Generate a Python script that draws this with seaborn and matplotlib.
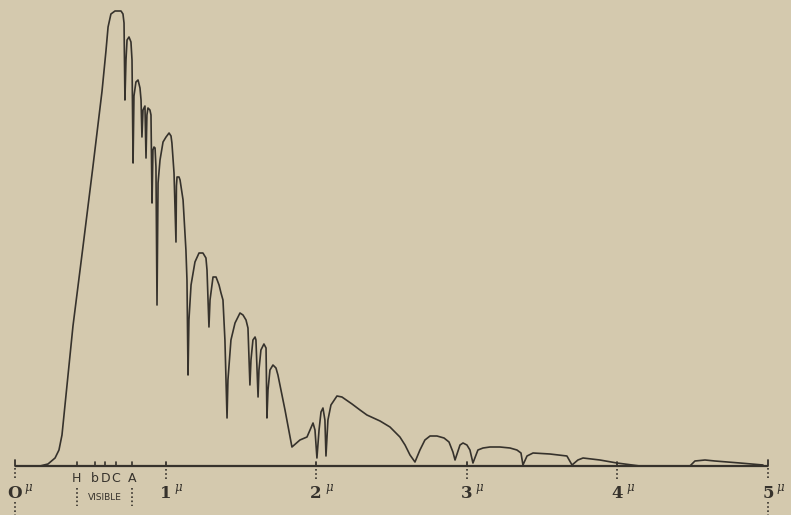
import matplotlib
matplotlib.use("Agg")
import matplotlib.pyplot as plt
import seaborn as sns
import pandas as pd

# Wavelength (microns) and relative intensity (arbitrary units)
wavelength = [0.166, 0.219, 0.266, 0.292, 0.312, 0.385, 0.452, 0.518, 0.578,
              0.604, 0.618, 0.637, 0.664, 0.704, 0.717, 0.724, 0.730, 0.737, 0.744,
              0.757, 0.770, 0.777, 0.784, 0.790, 0.803, 0.817, 0.830, 0.837, 0.843,
              0.850, 0.863, 0.870, 0.876, 0.883, 0.896, 0.903, 0.910, 0.916, 0.923,
              0.930, 0.936, 0.943, 0.950, 0.963, 0.983, 1.003, 1.023, 1.036, 1.042,
              1.056, 1.069, 1.072, 1.076, 1.089, 1.096, 1.116, 1.135, 1.142, 1.149,
              1.155, 1.169, 1.195, 1.222, 1.248, 1.268, 1.275, 1.288, 1.295, 1.315,
              1.335, 1.355, 1.368, 1.381, 1.394, 1.408, 1.414, 1.434, 1.461, 1.494,
              1.514, 1.534, 1.547, 1.560, 1.567, 1.580, 1.594, 1.600, 1.614, 1.620,
              1.633, 1.653, 1.667, 1.673, 1.680, 1.693, 1.713, 1.733, 1.746, 1.793,
              1.839, 1.892, 1.939, 1.965, 1.979, 1.992, 2.005, 2.019, 2.032, 2.045,
              2.058, 2.065, 2.078, 2.098, 2.138, 2.171, 2.238, 2.291, 2.337, 2.424,
              2.490, 2.556, 2.590, 2.623, 2.656, 2.689, 2.722, 2.756, 2.802, 2.849,
              2.882, 2.908, 2.922, 2.955, 2.975, 3.001, 3.021, 3.041, 3.074, 3.108,
              3.154, 3.220, 3.287, 3.333, 3.360, 3.373, 3.400, 3.440, 3.552, 3.665,
              3.699, 3.738, 3.772, 3.884, 3.997, 4.150, 4.482, 4.515, 4.582, 4.648,
              4.814, 4.967]
intensity = [0, 2, 8, 16, 31, 140, 220, 300, 375,
             415, 439, 452, 455, 455, 452, 443, 366, 406, 426,
             429, 424, 406, 303, 370, 384, 386, 378, 366, 329,
             356, 360, 308, 351, 358, 356, 351, 263, 316, 319,
             318, 299, 161, 283, 306, 324, 329, 333, 330, 323,
             293, 224, 280, 289, 289, 286, 266, 216, 186, 91,
             146, 181, 204, 213, 213, 208, 196, 139, 166, 189,
             189, 181, 173, 166, 126, 48, 86, 126, 143, 153,
             151, 146, 138, 81, 106, 126, 129, 126, 69, 96,
             116, 122, 118, 48, 76, 96, 101, 98, 91, 56,
             19, 26, 29, 38, 43, 36, 8, 36, 54, 58,
             46, 10, 46, 61, 70, 69, 62, 56, 51, 45,
             39, 29, 21, 11, 4, 16, 26, 30, 30, 28,
             24, 14, 6, 21, 23, 21, 16, 3, 16, 18,
             19, 19, 18, 16, 13, 1, 10, 13, 12, 10,
             1, 6, 8, 6, 3, 0, 0, 5, 6, 5,
             3, 1]

# Axis annotations
micron_ticks = [0, 1, 2, 3, 4, 5]
micron_labels = ["O", "1", "2", "3", "4", "5"]
line_names = ["H", "b", "D", "C", "A"]
line_positions = [0.41, 0.53, 0.60, 0.67, 0.777]

BG = "#d4c9ae"
INK = "#36322c"

sns.set_theme(style="white", rc={"figure.facecolor": BG, "axes.facecolor": BG})

fig = plt.figure(figsize=(7.91, 5.15), dpi=100)
ax = fig.add_axes([0, 0, 1, 1])
ax.set_facecolor(BG)

df = pd.DataFrame({"wavelength": wavelength, "intensity": intensity})
sns.lineplot(data=df, x="wavelength", y="intensity", sort=False, estimator=None,
             color=INK, linewidth=1.2, ax=ax)

ax.set_xlim(-0.0996, 5.153)
ax.set_ylim(-49, 466)
ax.axis("off")

# baseline
ax.plot([micron_ticks[0], micron_ticks[-1]], [0, 0], color=INK, lw=1.6, solid_capstyle="butt")

# micron ticks and labels
for t, lab in zip(micron_ticks, micron_labels):
    up = 6 if t in (0, 5) else 4
    ax.plot([t, t], [0, up], color=INK, lw=1.3)
    if t in (0, 5):
        ax.plot([t, t], [-2, -14], color=INK, lw=1.2, ls=(0, (1, 1.5)))
        ax.plot([t, t], [-36, -49], color=INK, lw=1.2, ls=(0, (1, 1.5)))
    else:
        ax.plot([t, t], [-3, -14], color=INK, lw=1.2, ls=(0, (1, 1.5)))
    ax.text(t + 0.0, -27, lab, ha="center", va="center", fontsize=12,
            fontweight="bold", family="DejaVu Serif", color=INK)
    ax.text(t + 0.085, -22, "μ", ha="center", va="center", fontsize=8.5,
            style="italic", family="DejaVu Serif", color=INK)

# Fraunhofer line ticks
for p, name in zip(line_positions, line_names):
    ax.plot([p, p], [0, 4], color=INK, lw=1.2)
    ax.text(p, -12, name, ha="center", va="center", fontsize=9,
            family="DejaVu Sans", color=INK)

# visible region markers
for p in (line_positions[0], line_positions[-1]):
    ax.plot([p, p], [-22, -40], color=INK, lw=1.2, ls=(0, (1, 1.5)))
ax.text((line_positions[0] + line_positions[-1]) / 2, -31, "VISIBLE", ha="center",
        va="center", fontsize=6.5, family="DejaVu Sans", color=INK)

fig.savefig("out.png", dpi=100, facecolor=BG)
